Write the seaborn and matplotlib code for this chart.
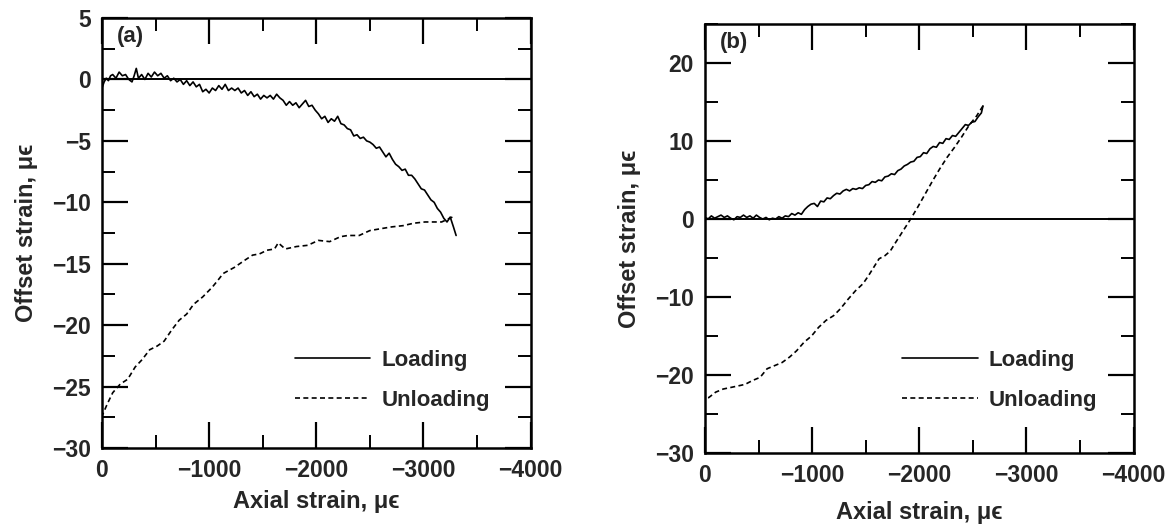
import matplotlib
matplotlib.use("Agg")
import matplotlib.pyplot as plt
import seaborn as sns
import pandas as pd
from matplotlib.ticker import MultipleLocator

# ---------------- data ----------------
a_load_x = [0, -20, -40, -60, -80, -100, -130, -160, -190, -220, -250, -280, -300, -320, -340,
            -370, -400, -430, -460, -490, -520, -550, -580, -610, -640, -670, -700, -730, -760,
            -790, -820, -850, -880, -910, -940, -970, -1000, -1030, -1060, -1090, -1120, -1150,
            -1180, -1210, -1240, -1270, -1300, -1330, -1360, -1390, -1420, -1450, -1480, -1510,
            -1540, -1570, -1600, -1630, -1660, -1690, -1720, -1750, -1780, -1810, -1840, -1870,
            -1900, -1930, -1960, -1990, -2020, -2050, -2080, -2110, -2140, -2170, -2200, -2230,
            -2260, -2290, -2320, -2350, -2380, -2410, -2440, -2470, -2500, -2530, -2560, -2590,
            -2620, -2650, -2680, -2710, -2740, -2770, -2800, -2830, -2860, -2890, -2920, -2950,
            -2980, -3010, -3040, -3070, -3100, -3130, -3160, -3190, -3220, -3250, -3280, -3305]
a_load_y = [-0.7, -0.2, 0.1, -0.1, 0.3, 0.4, 0.1, 0.6, 0.3, 0.4, 0.0, -0.2, 0.3, 0.9, 0.1,
            0.4, 0.0, 0.5, 0.2, 0.6, 0.3, 0.5, 0.1, 0.3, -0.1, 0.1, -0.2, 0.0, -0.4,
            -0.1, -0.5, -0.2, -0.6, -0.4, -1.0, -0.8, -1.1, -0.7, -0.9, -0.5, -0.8, -0.4,
            -0.9, -0.7, -0.9, -0.7, -1.1, -0.9, -1.3, -1.0, -1.4, -1.2, -1.6, -1.3,
            -1.5, -1.3, -1.6, -1.2, -1.5, -1.7, -2.1, -1.8, -2.1, -1.9, -2.3, -2.0,
            -1.7, -2.2, -2.1, -2.5, -2.8, -3.2, -3.0, -3.5, -3.2, -3.4, -3.0, -3.6,
            -3.7, -4.0, -4.1, -4.6, -4.5, -4.8, -4.7, -5.0, -5.1, -5.3, -5.6, -5.5,
            -5.9, -6.3, -6.0, -6.5, -6.9, -7.1, -7.4, -7.3, -7.8, -7.8, -8.1, -8.5,
            -8.9, -9.0, -9.4, -9.8, -10.0, -10.5, -10.8, -11.3, -11.6, -11.2, -12.0, -12.7]

a_unload_x = [-3270, -3220, -3170, -3115, -3015, -2910, -2810, -2705, -2635, -2500, -2400,
              -2295, -2225, -2125, -2020, -1920, -1815, -1710, -1645, -1610, -1540, -1470,
              -1405, -1335, -1235, -1130, -1095, -1030, -940, -855, -790, -720, -650, -580,
              -515, -445, -375, -310, -240, -170, -100, -50, 0]
a_unload_y = [-11.2, -11.4, -11.6, -11.6, -11.6, -11.7, -11.9, -12.0, -12.1, -12.3, -12.7,
              -12.7, -12.8, -13.2, -13.1, -13.5, -13.6, -13.8, -13.3, -13.8, -13.9, -14.2,
              -14.3, -14.7, -15.3, -15.8, -16.2, -16.9, -17.7, -18.3, -19.1, -19.6, -20.4, -21.3,
              -21.7, -22.0, -22.8, -23.4, -24.4, -24.8, -25.5, -26.4, -27.4]

b_load_x = [0, -30, -60, -90, -120, -150, -180, -210, -240, -270, -300, -330, -360, -390,
            -420, -450, -480, -510, -540, -570, -600, -630, -660, -690, -720, -750, -780,
            -810, -840, -870, -900, -930, -960, -990, -1020, -1050, -1080, -1110, -1140,
            -1170, -1200, -1230, -1260, -1290, -1320, -1350, -1380, -1410, -1440, -1470,
            -1500, -1530, -1560, -1590, -1620, -1650, -1680, -1710, -1740, -1770, -1800,
            -1830, -1860, -1890, -1920, -1950, -1980, -2010, -2040, -2070, -2100, -2130,
            -2160, -2190, -2220, -2250, -2280, -2310, -2340, -2370, -2400, -2430, -2460,
            -2490, -2520, -2550, -2580, -2595]
b_load_y = [0.2, 0.0, 0.4, 0.1, 0.3, 0.5, 0.2, 0.4, 0.1, -0.1, 0.3, 0.2, 0.5, 0.2,
            0.4, 0.1, 0.5, 0.2, 0.0, 0.2, -0.1, 0.1, 0.0, 0.3, 0.1, 0.4, 0.3,
            0.7, 0.5, 0.8, 0.6, 1.2, 1.6, 1.9, 2.0, 1.6, 2.3, 2.2, 2.7,
            2.6, 3.0, 3.3, 3.2, 3.6, 3.8, 3.6, 3.9, 3.8, 4.0, 3.9,
            4.3, 4.4, 4.8, 4.7, 5.0, 4.9, 5.4, 5.5, 5.8, 5.7, 6.2,
            6.4, 6.8, 7.0, 7.3, 7.4, 7.9, 8.0, 8.5, 8.4, 9.0, 9.3,
            9.2, 9.8, 9.7, 10.3, 10.2, 10.7, 10.6, 11.1, 11.6, 12.1, 12.0,
            12.4, 12.5, 13.1, 13.6, 14.5]

b_unload_x = [-2595, -2535, -2465, -2395, -2330, -2260, -2190, -2125, -2055, -1985, -1920,
              -1850, -1780, -1730, -1680, -1625, -1575, -1525, -1475, -1405, -1335, -1265,
              -1200, -1130, -1060, -995, -925, -855, -790, -720, -650, -580, -515, -445,
              -375, -310, -240, -170, -100, -35, 0]
b_unload_y = [14.5, 13.2, 12.0, 10.5, 9.2, 7.9, 6.4, 4.9, 3.2, 1.5, 0.0,
              -1.5, -3.0, -4.1, -4.7, -5.1, -6.2, -7.3, -8.3, -9.2, -10.3, -11.5,
              -12.4, -13.0, -13.9, -15.0, -15.8, -16.9, -17.7, -18.4, -18.8, -19.2, -20.3, -20.7,
              -21.2, -21.4, -21.6, -21.8, -22.2, -22.9, -22.9]

x_ticks = [0, -1000, -2000, -3000, -4000]
a_yticks = [-30, -25, -20, -15, -10, -5, 0, 5]
b_yticks = [-30, -20, -10, 0, 10, 20]
series_labels = ["Loading", "Unloading"]
panel_labels = ["(a)", "(b)"]
x_label = "Axial strain, \u03bc\u03f5"
y_label = "Offset strain, \u03bc\u03f5"

# ---------------- style ----------------
sns.set_style("ticks")
plt.rcParams["font.family"] = ["Liberation Sans", "DejaVu Sans"]
plt.rcParams["axes.unicode_minus"] = True

fig = plt.figure(figsize=(11.71, 5.24), dpi=100)
ax_a = fig.add_axes([0.0871, 0.145, 0.366, 0.8206])
ax_b = fig.add_axes([0.602, 0.1355, 0.366, 0.8187])

panels = [
    (ax_a, a_load_x, a_load_y, a_unload_x, a_unload_y, (-30, 5), 2.5, a_yticks, (0.45, 0.087), 6),
    (ax_b, b_load_x, b_load_y, b_unload_x, b_unload_y, (-30, 25), 5, b_yticks, (0.46, 0.098), 10),
]

tick_font = dict(family=["Liberation Sans", "DejaVu Sans"], size=16.5, weight="bold")

for i, (ax, lx, ly, ux, uy, ylim, ymin, yticks, leg_anchor, xpad) in enumerate(panels):
    df_l = pd.DataFrame({"x": lx, "y": ly})
    df_u = pd.DataFrame({"x": ux, "y": uy})
    ax.axhline(0, color="black", lw=1.4, zorder=1)
    sns.lineplot(data=df_l, x="x", y="y", ax=ax, sort=False, estimator=None,
                 color="black", lw=1.2, label=series_labels[0])
    sns.lineplot(data=df_u, x="x", y="y", ax=ax, sort=False, estimator=None,
                 color="black", lw=1.2, linestyle=(0, (3, 2)), label=series_labels[1])
    ax.set_xlim(0, -4000)
    ax.set_ylim(*ylim)
    ax.set_xticks(x_ticks)
    ax.xaxis.set_minor_locator(MultipleLocator(500))
    ax.set_yticks(yticks)
    ax.yaxis.set_minor_locator(MultipleLocator(ymin))
    ax.tick_params(which="both", direction="in", top=True, right=True, color="black")
    ax.tick_params(which="major", length=19, width=1.6, pad=8)
    ax.tick_params(which="minor", length=9.5, width=1.4)
    for lab in ax.get_xticklabels() + ax.get_yticklabels():
        lab.set_fontproperties(tick_font)
    for s in ax.spines.values():
        s.set_linewidth(1.8)
        s.set_color("black")
    ax.set_xlabel(x_label, fontsize=17, fontweight="bold", labelpad=xpad)
    ax.set_ylabel(y_label, fontsize=17, fontweight="bold", labelpad=10)
    ax.text(0.035, 0.958, panel_labels[i], transform=ax.transAxes, fontsize=16,
            fontweight="bold", va="center", ha="left")
    leg = ax.legend(loc="lower left", bbox_to_anchor=leg_anchor, frameon=False,
                    fontsize=16, handlelength=3.4, handletextpad=0.5, labelspacing=0.85,
                    borderpad=0, borderaxespad=0)
    for t in leg.get_texts():
        t.set_fontweight("bold")

fig.savefig("out.png", dpi=100)
